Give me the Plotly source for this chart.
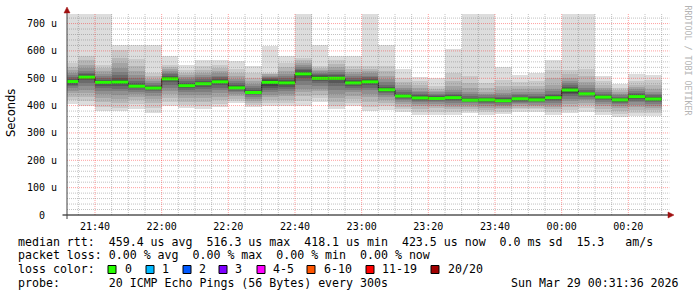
import pandas as pd
import plotly.graph_objects as go

# ---------------- data ----------------
interval_start = [
    "2026-03-28 21:30", "2026-03-28 21:35", "2026-03-28 21:40", "2026-03-28 21:45",
    "2026-03-28 21:50", "2026-03-28 21:55", "2026-03-28 22:00", "2026-03-28 22:05",
    "2026-03-28 22:10", "2026-03-28 22:15", "2026-03-28 22:20", "2026-03-28 22:25",
    "2026-03-28 22:30", "2026-03-28 22:35", "2026-03-28 22:40", "2026-03-28 22:45",
    "2026-03-28 22:50", "2026-03-28 22:55", "2026-03-28 23:00", "2026-03-28 23:05",
    "2026-03-28 23:10", "2026-03-28 23:15", "2026-03-28 23:20", "2026-03-28 23:25",
    "2026-03-28 23:30", "2026-03-28 23:35", "2026-03-28 23:40", "2026-03-28 23:45",
    "2026-03-28 23:50", "2026-03-28 23:55", "2026-03-29 00:00", "2026-03-29 00:05",
    "2026-03-29 00:10", "2026-03-29 00:15", "2026-03-29 00:20", "2026-03-29 00:25",
]

# median rtt per interval (microseconds)
median_us = [488, 504, 485, 486, 471, 464, 498, 473, 480, 487, 465, 448,
             485, 483, 516, 500, 500, 483, 487, 458, 435, 428, 426, 429,
             420, 421, 418, 425, 421, 429, 457, 443, 431, 421, 433, 424]

# 20 sorted ping rtts per interval (microseconds)
s2130 = [405, 420, 432, 445, 455, 463, 470, 476, 482, 486, 490, 494, 499, 505, 512, 520, 530, 542, 555, 760]
s2135 = [397, 418, 432, 445, 458, 470, 482, 492, 499, 503, 505, 509, 514, 520, 528, 538, 550, 565, 583, 760]
s2140 = [381, 395, 412, 428, 442, 455, 465, 473, 479, 484, 486, 490, 495, 501, 508, 516, 525, 536, 550, 760]
s2145 = [379, 392, 408, 424, 440, 452, 462, 471, 479, 484, 488, 494, 502, 512, 524, 538, 555, 575, 602, 620]
s2150 = [388, 405, 420, 432, 442, 451, 458, 463, 467, 470, 472, 476, 482, 490, 500, 512, 526, 545, 570, 620]
s2155 = [372, 392, 410, 425, 436, 445, 452, 457, 461, 463, 465, 468, 472, 477, 483, 490, 498, 508, 519, 620]
s2200 = [397, 412, 428, 442, 455, 466, 476, 485, 492, 497, 499, 503, 508, 514, 520, 527, 535, 542, 550, 583]
s2205 = [390, 402, 415, 428, 440, 450, 458, 464, 469, 472, 474, 478, 483, 489, 496, 503, 511, 520, 530, 550]
s2210 = [388, 400, 414, 428, 440, 451, 460, 468, 474, 479, 481, 485, 490, 496, 503, 511, 520, 532, 545, 565]
s2215 = [395, 406, 420, 433, 446, 457, 466, 474, 481, 486, 488, 492, 497, 503, 510, 518, 527, 537, 548, 568]
s2220 = [410, 418, 426, 434, 441, 448, 454, 459, 462, 464, 466, 470, 475, 482, 490, 499, 509, 520, 535, 564]
s2225 = [394, 402, 410, 418, 425, 431, 437, 442, 445, 447, 449, 452, 457, 463, 470, 479, 489, 502, 520, 546]
s2230 = [397, 410, 422, 432, 440, 448, 456, 464, 472, 480, 490, 494, 498, 502, 506, 510, 514, 517, 519, 619]
s2235 = [397, 410, 422, 434, 444, 453, 461, 468, 475, 480, 486, 490, 495, 501, 508, 516, 526, 540, 556, 580]
s2240 = [400, 418, 434, 448, 462, 476, 490, 500, 508, 514, 520, 524, 529, 535, 541, 548, 556, 565, 574, 760]
s2245 = [415, 428, 440, 452, 462, 472, 482, 490, 496, 500, 504, 507, 511, 515, 520, 525, 530, 537, 544, 623]
s2250 = [388, 400, 414, 428, 442, 456, 470, 482, 492, 498, 502, 506, 511, 517, 524, 532, 542, 554, 568, 583]
s2255 = [397, 410, 424, 436, 448, 458, 466, 473, 479, 483, 485, 489, 494, 500, 507, 515, 524, 535, 546, 580]
s2300 = [379, 396, 414, 430, 444, 456, 466, 474, 481, 486, 488, 492, 497, 503, 510, 518, 526, 535, 544, 760]
s2305 = [385, 398, 410, 420, 430, 438, 445, 450, 454, 457, 459, 463, 469, 477, 487, 498, 510, 525, 544, 620]
s2310 = [376, 386, 396, 405, 413, 420, 425, 429, 432, 434, 436, 439, 443, 449, 456, 464, 474, 486, 500, 535]
s2315 = [366, 378, 389, 398, 406, 413, 418, 422, 426, 428, 430, 433, 437, 442, 448, 455, 463, 475, 490, 503]
s2320 = [366, 378, 390, 399, 407, 413, 418, 422, 425, 427, 429, 432, 435, 439, 443, 448, 454, 461, 470, 501]
s2325 = [366, 376, 386, 395, 403, 410, 416, 421, 425, 428, 430, 433, 437, 442, 449, 458, 470, 490, 521, 607]
s2330 = [373, 381, 389, 396, 402, 408, 413, 416, 419, 420, 422, 425, 429, 435, 442, 451, 463, 482, 509, 760]
s2335 = [366, 375, 384, 392, 399, 405, 410, 414, 418, 420, 422, 425, 428, 432, 437, 443, 451, 463, 482, 760]
s2340 = [370, 378, 386, 393, 399, 404, 409, 413, 416, 418, 420, 423, 427, 432, 438, 446, 456, 472, 495, 543]
s2345 = [378, 386, 393, 399, 405, 410, 414, 418, 422, 424, 426, 429, 433, 438, 444, 451, 460, 471, 485, 511]
s2350 = [378, 386, 393, 399, 404, 409, 413, 417, 420, 422, 424, 427, 431, 436, 442, 450, 460, 473, 490, 519]
s2355 = [366, 377, 387, 396, 404, 411, 417, 422, 426, 429, 431, 434, 438, 444, 452, 462, 475, 500, 531, 568]
s0000 = [372, 384, 396, 407, 417, 426, 434, 441, 447, 454, 460, 464, 469, 475, 482, 490, 500, 514, 531, 760]
s0005 = [378, 390, 401, 411, 419, 426, 432, 437, 440, 442, 444, 447, 451, 457, 465, 475, 488, 507, 534, 760]
s0010 = [366, 377, 388, 398, 406, 413, 419, 424, 428, 430, 432, 435, 439, 444, 450, 457, 465, 475, 490, 507]
s0015 = [359, 370, 381, 390, 398, 405, 410, 414, 418, 420, 422, 425, 428, 432, 437, 442, 448, 456, 465, 479]
s0020 = [361, 373, 385, 395, 404, 412, 418, 424, 429, 432, 434, 437, 441, 446, 452, 459, 467, 477, 490, 517]
s0025 = [361, 372, 383, 392, 400, 407, 413, 418, 422, 424, 426, 429, 433, 438, 444, 451, 460, 475, 495, 513]

smoke_rows = [s2130, s2135, s2140, s2145, s2150, s2155, s2200, s2205, s2210, s2215,
              s2220, s2225, s2230, s2235, s2240, s2245, s2250, s2255, s2300, s2305,
              s2310, s2315, s2320, s2325, s2330, s2335, s2340, s2345, s2350, s2355,
              s0000, s0005, s0010, s0015, s0020, s0025]

y_tick_vals = [0, 100, 200, 300, 400, 500, 600, 700]
y_tick_text = ["0\u00a0\u00a0", "100 u", "200 u", "300 u", "400 u", "500 u", "600 u", "700 u"]

loss_labels = ["0", "1", "2", "3", "4-5", "6-10", "11-19", "20/20"]
loss_colors = ["#26ff00", "#00b8ff", "#0059ff", "#7e00ff", "#ff00ff", "#ff5500", "#ff0000", "#a10000"]

legend_lines = [
    "median rtt:  459.4 us avg  516.3 us max  418.1 us min  423.5 us now  0.0 ms sd  15.3   am/s",
    "packet loss: 0.00 % avg  0.00 % max  0.00 % min  0.00 % now",
    "loss color:",
    "probe:       20 ICMP Echo Pings (56 Bytes) every 300s",
]
timestamp_text = "Sun Mar 29 00:31:36 2026"

x_start = "2026-03-28 21:31:36"
x_end = "2026-03-29 00:31:36"
y_max = 735

# ---------------- geometry helpers (pixel -> paper) ----------------
W, H = 697, 297
ML, MR, MT, MB = 67, 30, 14, 82
PW, PH = W - ML - MR, H - MT - MB


def px(x):
    return (x - ML) / PW


def py(y):
    return (H - MB - y) / PH


# ---------------- figure ----------------
starts = pd.to_datetime(interval_start)
step = pd.Timedelta(minutes=5)
centers = starts + step / 2
ends = starts + step

fig = go.Figure()

n_half = 10
for i in range(n_half):
    g = int(190 / n_half * (n_half - (i + 1))) + 50
    col = f"rgb({g},{g},{g})"
    base = [row[i] for row in smoke_rows]
    height = [row[19 - i] - row[i] for row in smoke_rows]
    fig.add_trace(go.Bar(x=centers, y=height, base=base, width=300000,
                         marker=dict(color=col, line=dict(width=0)),
                         hoverinfo="skip", showlegend=False))

# dark step line for median
step_x = list(starts) + [ends[-1]]
step_y = list(median_us) + [median_us[-1]]
fig.add_trace(go.Scatter(x=step_x, y=step_y, mode="lines", line_shape="hv",
                         line=dict(color="#202020", width=1), showlegend=False,
                         hoverinfo="skip"))

# green median segments
seg_x, seg_y = [], []
for s, e, m in zip(starts, ends, median_us):
    seg_x += [s, e, None]
    seg_y += [m, m, None]
fig.add_trace(go.Scatter(x=seg_x, y=seg_y, mode="lines",
                         line=dict(color=loss_colors[0], width=3),
                         showlegend=False, hoverinfo="skip", connectgaps=False))

shapes = []
# grid lines above the smoke (rrdtool style dotted)
minor_col = "rgba(120,120,120,0.45)"
major_col = "rgba(255,0,0,0.38)"
for v in range(20, 740, 20):
    if v > y_max:
        break
    shapes.append(dict(type="line", xref="x domain", yref="y", x0=0, x1=1.004, y0=v, y1=v,
                       layer="above",
                       line=dict(color=major_col if v % 100 == 0 else minor_col,
                                 width=1, dash="1px,1px")))
grid_t = pd.Timestamp("2026-03-28 21:35")
while grid_t <= pd.Timestamp(x_end):
    major = grid_t.minute % 20 == 0
    shapes.append(dict(type="line", xref="x", yref="y domain", x0=grid_t, x1=grid_t, y0=0, y1=1,
                       layer="above",
                       line=dict(color=major_col if major else minor_col, width=1, dash="1px,1px")))
    grid_t += step

# axis lines and arrows
shapes.append(dict(type="line", xref="paper", yref="paper", x0=px(62.5), x1=px(670), y0=py(215), y1=py(215),
                   layer="above", line=dict(color="#000000", width=1)))
shapes.append(dict(type="line", xref="paper", yref="paper", x0=px(67), x1=px(67), y0=py(219), y1=py(11),
                   layer="above", line=dict(color="#404040", width=1)))
arrow_col = "#a01010"
shapes.append(dict(type="path", xref="paper", yref="paper", layer="above",
                   path=f"M {px(64)} {py(13)} L {px(70)} {py(13)} L {px(67)} {py(7)} Z",
                   fillcolor=arrow_col, line=dict(color=arrow_col, width=0.5)))
shapes.append(dict(type="path", xref="paper", yref="paper", layer="above",
                   path=f"M {px(668)} {py(212)} L {px(668)} {py(218)} L {px(674)} {py(215)} Z",
                   fillcolor=arrow_col, line=dict(color=arrow_col, width=0.5)))

# loss colour squares
sq_left = [108, 146, 183, 219, 257, 307, 366, 431]
lab_left = [123, 160, 197, 233, 271, 322, 380, 446]
for xl, c in zip(sq_left, loss_colors):
    shapes.append(dict(type="rect", xref="paper", yref="paper",
                       x0=px(xl), x1=px(xl + 8), y0=py(265.5), y1=py(273.5),
                       fillcolor=c, line=dict(color="#000000", width=1)))

mono = "DejaVu Sans Mono"
annotations = []
line_y = [241.5, 255.3, 269.3, 283.0]
for txt, yy in zip(legend_lines, line_y):
    annotations.append(dict(text=txt.replace(" ", "\u00a0"), xref="paper", yref="paper",
                            x=px(15.5), y=py(yy), xanchor="left", yanchor="middle",
                            showarrow=False, font=dict(family=mono, size=11.6, color="#000000")))
for xl, lab in zip(lab_left, loss_labels):
    annotations.append(dict(text=lab, xref="paper", yref="paper", x=px(xl - 0.5), y=py(line_y[2]),
                            xanchor="left", yanchor="middle", showarrow=False,
                            font=dict(family=mono, size=11.6, color="#000000")))
annotations.append(dict(text=timestamp_text.replace(" ", "\u00a0"), xref="paper", yref="paper",
                        x=px(681), y=py(line_y[3]), xanchor="right", yanchor="middle",
                        showarrow=False, font=dict(family=mono, size=11.6, color="#000000")))
annotations.append(dict(text="Seconds", xref="paper", yref="paper", x=px(11), y=py(113),
                        xanchor="center", yanchor="middle", textangle=-90, showarrow=False,
                        font=dict(family="DejaVu Sans", size=11.5, color="#000000")))
annotations.append(dict(text="RRDTOOL\u00a0/\u00a0TOBI\u00a0OETIKER", xref="paper", yref="paper",
                        x=px(687.5), y=py(60), xanchor="center", yanchor="middle", textangle=90,
                        showarrow=False, font=dict(family=mono, size=8.3, color="#b4b4b4")))

fig.update_layout(
    width=W, height=H,
    margin=dict(l=ML, r=MR, t=MT, b=MB, pad=0),
    paper_bgcolor="#ffffff", plot_bgcolor="#ffffff",
    barmode="overlay", bargap=0,
    showlegend=False,
    shapes=shapes, annotations=annotations,
    xaxis=dict(type="date", range=[x_start, x_end], showgrid=False, zeroline=False,
               showline=False, ticks="", tick0="2026-03-28 21:40", dtick=20 * 60 * 1000,
               tickformat="%H:%M", ticklabelstandoff=4,
               tickfont=dict(family=mono, size=10, color="#000000")),
    yaxis=dict(range=[0, y_max], showgrid=False, zeroline=False, showline=False, ticks="",
               tickvals=y_tick_vals, ticktext=y_tick_text, ticklabelstandoff=9,
               tickfont=dict(family=mono, size=10, color="#000000")),
    font=dict(family=mono, size=10, color="#000000"),
)

fig.write_html("out.html")
